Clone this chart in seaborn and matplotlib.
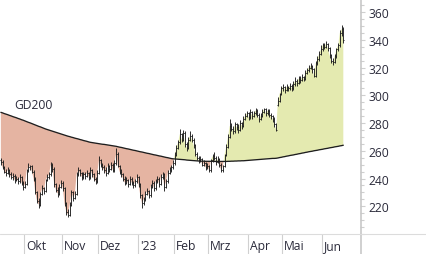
import numpy as np
import pandas as pd
import matplotlib
matplotlib.use("Agg")
import matplotlib.pyplot as plt
import matplotlib.transforms as mtransforms
from matplotlib.lines import Line2D
from matplotlib.ticker import MultipleLocator
import seaborn as sns

# ---------------- data ----------------
opens = [
    253, 252, 248, 245, 244, 246, 243, 241, 242, 239,
    240, 238, 241, 237, 234, 236, 246, 248, 249, 245,
    240, 230, 224, 221, 229, 233, 231, 239, 241, 243,
    250, 247, 236, 232, 229, 234, 237, 233, 222, 216,
    214, 221, 230, 226, 229, 243, 246, 244, 241, 243,
    242, 244, 241, 246, 243, 240, 238, 244, 253, 250,
    248, 246, 244, 249, 247, 250, 246, 251, 258, 249,
    245, 243, 240, 237, 239, 236, 240, 237, 235, 238,
    241, 236, 228, 222, 225, 229, 231, 228, 234, 237,
    233, 238, 240, 236, 241, 243, 234, 238, 244, 246,
    248, 251, 257, 262, 266, 272, 268, 273, 265, 262,
    268, 271, 268, 264, 258, 255, 253, 254, 250, 251,
    248, 249, 246, 253, 256, 255, 252, 254, 250, 246,
    249, 257, 263, 270, 278, 276, 274, 279, 277, 275,
    280, 278, 283, 285, 287, 284, 288, 285, 287, 289,
    286, 283, 285, 288, 290, 287, 289, 286, 285, 283,
    279, 293, 296, 301, 305, 306, 304, 306, 305, 307,
    305, 308, 310, 309, 312, 311, 313, 312, 316, 318,
    320, 321, 319, 314, 323, 326, 330, 333, 336, 335,
    337, 334, 329, 325, 324, 328, 333, 336, 345, 348,
]
highs = [
    255, 253, 249, 247, 248, 247, 245, 244, 243, 242,
    241, 243, 242, 238, 238, 247, 251, 250, 250, 246,
    241, 231, 226, 230, 235, 234, 240, 243, 245, 252,
    251, 248, 237, 234, 236, 239, 238, 234, 223, 218,
    223, 232, 231, 231, 245, 248, 247, 245, 245, 245,
    246, 245, 248, 247, 244, 241, 246, 256, 254, 251,
    250, 248, 251, 250, 252, 251, 253, 262, 259, 250,
    247, 244, 242, 241, 240, 242, 241, 238, 240, 243,
    242, 237, 229, 227, 231, 233, 232, 236, 239, 238,
    240, 242, 241, 243, 245, 244, 240, 246, 248, 250,
    253, 259, 264, 268, 276, 273, 275, 274, 266, 270,
    274, 272, 269, 265, 259, 256, 256, 255, 253, 252,
    251, 250, 254, 258, 259, 256, 256, 255, 251, 250,
    258, 265, 272, 283, 280, 278, 281, 280, 279, 282,
    281, 285, 287, 289, 288, 290, 289, 289, 291, 290,
    287, 287, 290, 291, 291, 290, 290, 287, 286, 284,
    280, 299, 302, 307, 308, 307, 308, 307, 309, 308,
    310, 313, 312, 314, 314, 315, 314, 318, 320, 322,
    323, 322, 320, 325, 328, 332, 336, 338, 338, 339,
    338, 335, 330, 327, 330, 334, 338, 347, 351, 349,
]
lows = [
    250, 247, 244, 242, 243, 241, 240, 239, 237, 238,
    236, 237, 235, 232, 233, 235, 245, 246, 244, 238,
    229, 222, 219, 220, 228, 229, 230, 238, 240, 242,
    245, 234, 230, 227, 228, 233, 231, 220, 214, 212,
    213, 220, 224, 225, 228, 242, 242, 239, 240, 240,
    241, 239, 240, 241, 238, 236, 237, 243, 248, 246,
    244, 242, 243, 245, 246, 245, 245, 250, 248, 243,
    241, 238, 235, 236, 234, 235, 235, 233, 234, 237,
    234, 226, 219, 221, 224, 228, 226, 227, 233, 231,
    232, 237, 234, 235, 240, 231, 233, 237, 243, 245,
    247, 250, 256, 261, 265, 266, 267, 263, 260, 261,
    267, 266, 262, 256, 253, 251, 252, 249, 249, 246,
    247, 245, 245, 252, 253, 250, 251, 248, 245, 245,
    248, 256, 262, 269, 274, 272, 273, 275, 273, 274,
    276, 277, 282, 284, 282, 283, 283, 284, 286, 284,
    281, 282, 284, 287, 285, 286, 284, 283, 281, 277,
    274, 292, 295, 300, 303, 302, 303, 303, 304, 303,
    304, 307, 307, 308, 309, 310, 310, 311, 315, 317,
    319, 316, 313, 313, 322, 325, 329, 332, 333, 334,
    332, 327, 323, 322, 323, 327, 332, 335, 343, 338,
]
closes = [
    252, 248, 245, 244, 246, 243, 241, 242, 239, 240,
    238, 241, 237, 234, 236, 246, 248, 249, 245, 240,
    230, 224, 221, 229, 233, 231, 239, 241, 243, 250,
    247, 236, 232, 229, 234, 237, 233, 222, 216, 214,
    221, 230, 226, 229, 243, 246, 244, 241, 243, 242,
    244, 241, 246, 243, 240, 238, 244, 253, 250, 248,
    246, 244, 249, 247, 250, 246, 251, 258, 249, 245,
    243, 240, 237, 239, 236, 240, 237, 235, 238, 241,
    236, 228, 222, 225, 229, 231, 228, 234, 237, 233,
    238, 240, 236, 241, 243, 234, 238, 244, 246, 248,
    251, 257, 262, 266, 272, 268, 273, 265, 262, 268,
    271, 268, 264, 258, 255, 253, 254, 250, 251, 248,
    249, 246, 253, 256, 255, 252, 254, 250, 246, 249,
    257, 263, 270, 278, 276, 274, 279, 277, 275, 280,
    278, 283, 285, 287, 284, 288, 285, 287, 289, 286,
    283, 285, 288, 290, 287, 289, 286, 285, 283, 279,
    275, 296, 301, 305, 306, 304, 306, 305, 307, 305,
    308, 310, 309, 312, 311, 313, 312, 316, 318, 320,
    321, 319, 314, 323, 326, 330, 333, 336, 335, 337,
    334, 329, 325, 324, 328, 333, 336, 345, 348, 340,
]
gd200 = [
    287.7, 287.3, 286.8, 286.4, 286.0, 285.5, 285.1, 284.6, 284.2, 283.8,
    283.3, 282.9, 282.4, 282.0, 281.5, 281.0, 280.5, 280.1, 279.6, 279.1,
    278.6, 278.1, 277.6, 277.2, 276.7, 276.2, 275.7, 275.3, 274.9, 274.5,
    274.1, 273.7, 273.3, 272.9, 272.5, 272.1, 271.7, 271.3, 270.9, 270.5,
    270.2, 269.8, 269.5, 269.1, 268.8, 268.5, 268.1, 267.8, 267.4, 267.1,
    266.8, 266.4, 266.1, 265.9, 265.7, 265.5, 265.3, 265.1, 264.9, 264.7,
    264.6, 264.4, 264.2, 264.0, 263.8, 263.6, 263.4, 263.2, 262.9, 262.6,
    262.4, 262.1, 261.8, 261.5, 261.3, 261.0, 260.7, 260.4, 260.2, 259.9,
    259.6, 259.3, 259.1, 258.8, 258.5, 258.2, 258.0, 257.7, 257.4, 257.1,
    256.9, 256.6, 256.3, 256.1, 255.8, 255.5, 255.2, 255.0, 254.7, 254.4,
    254.2, 254.1, 254.0, 253.9, 253.8, 253.7, 253.6, 253.5, 253.3, 253.2,
    253.1, 253.0, 252.9, 252.8, 252.7, 252.6, 252.5, 252.5, 252.5, 252.4,
    252.4, 252.4, 252.4, 252.4, 252.3, 252.3, 252.3, 252.3, 252.3, 252.3,
    252.3, 252.3, 252.4, 252.4, 252.5, 252.5, 252.6, 252.6, 252.7, 252.7,
    252.8, 252.8, 252.9, 253.0, 253.1, 253.2, 253.3, 253.4, 253.5, 253.6,
    253.7, 253.8, 253.9, 254.0, 254.1, 254.2, 254.3, 254.4, 254.5, 254.5,
    254.6, 254.8, 255.1, 255.3, 255.6, 255.8, 256.1, 256.3, 256.6, 256.8,
    257.0, 257.3, 257.5, 257.8, 258.0, 258.3, 258.5, 258.8, 259.0, 259.3,
    259.5, 259.7, 260.0, 260.2, 260.4, 260.7, 260.9, 261.1, 261.4, 261.6,
    261.8, 262.1, 262.3, 262.5, 262.8, 263.0, 263.2, 263.5, 263.7, 264.0,
]
month_labels = ["Okt", "Nov", "Dez", "'23", "Feb", "Mrz", "Apr", "Mai", "Jun"]
month_start = [14, 36, 57, 80, 101, 121, 144, 164, 187]
y_ticks = [220, 240, 260, 280, 300, 320, 340, 360]
ma_label = "GD200"

# ---------------- style ----------------
sns.set_style("white")
plt.rcParams["font.family"] = ["Open Sans", "DejaVu Sans"]

GREEN = "#e4eab0"
RED = "#e5b4a2"
INK = "#1e1e1e"
TXT = "#2a2a3a"
GRID = "#cfcfcf"

W, H = 426, 255
fig = plt.figure(figsize=(W / 100, H / 100), dpi=100)
fig.patch.set_facecolor("white")
band = 20
ax = fig.add_axes([0, band / H, 360 / W, (H - band) / H])

df = pd.DataFrame({"i": np.arange(len(closes)), "o": opens, "h": highs,
                   "l": lows, "c": closes, "ma": gd200})
x = df["i"].to_numpy()
c = df["c"].to_numpy(dtype=float)
ma = df["ma"].to_numpy(dtype=float)

ax.fill_between(x, c, ma, where=c >= ma, interpolate=True, color=GREEN, lw=0)
ax.fill_between(x, c, ma, where=c < ma, interpolate=True, color=RED, lw=0)
sns.lineplot(data=df, x="i", y="ma", ax=ax, color=INK, lw=0.95)

bar_kw = dict(color=INK, lw=0.65)
ax.vlines(x, df["l"], df["h"], **bar_kw)
ax.hlines(df["o"], x - 0.5, x, **bar_kw)
ax.hlines(df["c"], x, x + 0.5, **bar_kw)

ax.text(7.6, 293.7, ma_label, fontsize=8.7, color=TXT, va="center", ha="left")

ax.set_xlim(-0.5, 208.7)
ax.set_ylim(200, 369.4)
for s in ["top", "left", "bottom", "right"]:
    ax.spines[s].set_visible(False)
ax.set_xticks([])
ax.set_xlabel("")
ax.set_ylabel("")
ax.yaxis.tick_right()
ax.set_yticks(y_ticks)
ax.yaxis.set_minor_locator(MultipleLocator(5))
ax.tick_params(axis="y", which="major", length=3.8, width=0.8, color=GRID,
               pad=2, labelsize=8.7, labelcolor=TXT, right=True, left=False)
ax.tick_params(axis="y", which="minor", length=3.0, width=0.8, color=GRID,
               right=True, left=False)

# right axis line (full height) and band line
fig.add_artist(Line2D([360.5 / W, 360.5 / W], [0, 1], color="#c8c8c8", lw=1.2))
fig.add_artist(Line2D([0, 1], [band / H, band / H], color="#dcdcdc", lw=0.8))

# month separators and labels in the bottom band
trans = mtransforms.blended_transform_factory(ax.transData, ax.transAxes)
band_ax = band / (H - band)
for m, lab in zip(month_start, month_labels):
    ax.plot([m - 0.5, m - 0.5], [0, -band_ax], transform=trans, color="#d0d0d0",
            lw=0.8, clip_on=False)
    t2 = mtransforms.offset_copy(trans, fig=fig, x=2, y=0, units="dots")
    ax.text(m - 0.5, -band_ax * 0.6, lab, transform=t2, fontsize=8.7,
            color=TXT, va="center", ha="left", clip_on=False)

fig.savefig("out.png", dpi=100, facecolor="white")
